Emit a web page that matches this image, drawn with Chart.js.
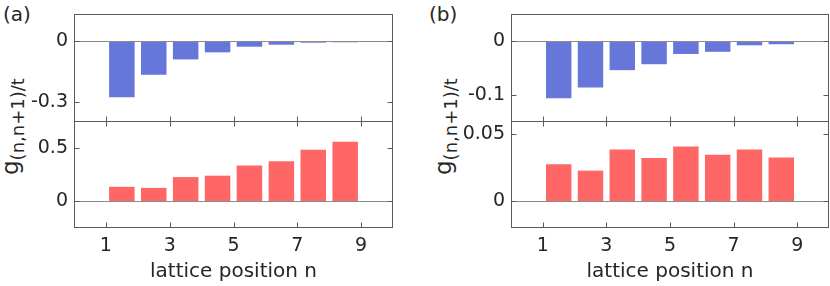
<!DOCTYPE html>
<html>
<head>
<meta charset="utf-8">
<script src="https://cdn.jsdelivr.net/npm/chart.js@4"></script>
<style>
body { margin: 0; width: 830px; height: 286px; overflow: hidden; background: #fff; position: relative;
       font-family: "DejaVu Sans", sans-serif; color: #262626; }
canvas { position: absolute; }
.tag { position: absolute; font-size: 20px; }
.ylab { position: absolute; font-size: 23px; line-height: 22px; white-space: nowrap;
        transform-origin: 0 0; transform: rotate(-90deg); }
.ylab sub { font-size: 18px; }
</style>
</head>
<body>
<div class="tag" style="left:3px;top:2px">(a)</div>
<div class="tag" style="left:429px;top:2px">(b)</div>
<div class="ylab" style="left:-1px;top:175px">g<sub>(n,n+1)/t</sub></div>
<div class="ylab" style="left:432px;top:175px">g<sub>(n,n+1)/t</sub></div>
<canvas id="aTop" width="415" height="123" style="left:0;top:0"></canvas>
<canvas id="aBot" width="415" height="171" style="left:0;top:115px"></canvas>
<canvas id="bTop" width="393" height="123" style="left:437px;top:0"></canvas>
<canvas id="bBot" width="393" height="171" style="left:437px;top:115px"></canvas>
<script>
"use strict"
// bond positions between site n and n+1
let bonds = [1.5, 2.5, 3.5, 4.5, 5.5, 6.5, 7.5, 8.5];
let xTicks = [1, 3, 5, 7, 9];

let aTopVals = [-0.278, -0.166, -0.090, -0.055, -0.027, -0.017, -0.007, -0.005];
let aBotVals = [0.135, 0.125, 0.226, 0.239, 0.333, 0.374, 0.481, 0.557];
let bTopVals = [-0.106, -0.086, -0.054, -0.043, -0.024, -0.020, -0.008, -0.006];
let bBotVals = [0.0276, 0.0229, 0.0387, 0.0324, 0.0410, 0.0347, 0.0387, 0.0327];

let aTopTicks = [-0.3, 0];
let aBotTicks = [0, 0.5];
let bTopTicks = [-0.1, 0];
let bBotTicks = [0, 0.05];

const textColor = '#262626';
const boxColor = '#5a5a5a';
const blue = '#6676d9';
const red = '#ff6666';
Chart.defaults.font.family = '"DejaVu Sans", sans-serif';

// box, inward ticks and the zero line, like matlab axes
let framePlugin = {
    id: 'frame',
    afterDatasetsDraw(chart, args, opts) {
        let ctx = chart.ctx;
        let a = chart.chartArea;
        let xs = chart.scales.x;
        let ys = chart.scales.y;
        let L = a.left + 0.5, R = a.right - 0.5, T = a.top + 0.5, B = a.bottom - 0.5;
        ctx.save();
        ctx.lineWidth = 1;
        let y0 = Math.round(ys.getPixelForValue(0)) + 0.5;
        ctx.strokeStyle = '#8c8c8c';
        ctx.beginPath();
        ctx.moveTo(L, y0);
        ctx.lineTo(R, y0);
        ctx.stroke();
        ctx.strokeStyle = boxColor;
        ctx.strokeRect(L, T, R - L, B - T);
        ctx.beginPath();
        xTicks.forEach(v => {
            let px = Math.round(xs.getPixelForValue(v)) + 0.5;
            ctx.moveTo(px, B);
            ctx.lineTo(px, B - 5);
            if (opts.topTicks) {
                ctx.moveTo(px, T);
                ctx.lineTo(px, T + 5);
            }
        });
        opts.yTicks.forEach(v => {
            let py = Math.round(ys.getPixelForValue(v)) + 0.5;
            ctx.moveTo(L, py);
            ctx.lineTo(L + 5, py);
            ctx.moveTo(R, py);
            ctx.lineTo(R - 5, py);
        });
        ctx.stroke();
        ctx.restore();
    }
};

function makePlot(id, vals, color, yMin, yMax, yTicks, padRight, isBottom) {
    let points = [];
    for (let i = 0; i < bonds.length; i++) {
        points.push({ x: bonds[i], y: vals[i] });
    }
    new Chart(document.getElementById(id), {
        type: 'bar',
        data: {
            datasets: [{
                data: points,
                backgroundColor: color,
                borderWidth: 0,
                barPercentage: 0.8,
                categoryPercentage: 1
            }]
        },
        plugins: [framePlugin],
        options: {
            responsive: false,
            animation: false,
            events: [],
            layout: { padding: { left: 0, top: isBottom ? 6 : 14, right: padRight, bottom: isBottom ? 0 : 1 } },
            plugins: {
                legend: { display: false },
                tooltip: { enabled: false },
                frame: { yTicks: yTicks, topTicks: isBottom }
            },
            scales: {
                x: {
                    type: 'linear',
                    min: 0,
                    max: 10,
                    offset: false,
                    display: isBottom,
                    afterBuildTicks: s => { s.ticks = xTicks.map(v => ({ value: v })); },
                    grid: { display: false, drawTicks: false, offset: false },
                    border: { display: false },
                    ticks: { color: textColor, font: { size: 19 }, padding: 7, maxRotation: 0, autoSkip: false },
                    title: {
                        display: true,
                        text: 'lattice position n',
                        color: textColor,
                        font: { size: 20 },
                        padding: { top: 0, bottom: 2 }
                    },
                    afterFit: s => {
                        if (isBottom) s.height = 58;
                        s.paddingLeft = 0;
                        s.paddingRight = 0;
                    }
                },
                y: {
                    type: 'linear',
                    min: yMin,
                    max: yMax,
                    afterBuildTicks: s => { s.ticks = yTicks.map(v => ({ value: v })); },
                    grid: { display: false, drawTicks: false },
                    border: { display: false },
                    ticks: { color: textColor, font: { size: 19 }, padding: 6, callback: v => String(v) },
                    afterFit: s => { s.width = 74; s.paddingTop = 0; s.paddingBottom = 0; }
                }
            }
        }
    });
}

makePlot('aTop', aTopVals, blue, -0.4, 0.135, aTopTicks, 22, false);
makePlot('aBot', aBotVals, red, -0.25, 0.75, aBotTicks, 22, true);
makePlot('bTop', bTopVals, blue, -0.15, 0.05, bTopTicks, 1, false);
makePlot('bBot', bBotVals, red, -0.02, 0.06, bBotTicks, 1, true);
</script>
</body>
</html>
